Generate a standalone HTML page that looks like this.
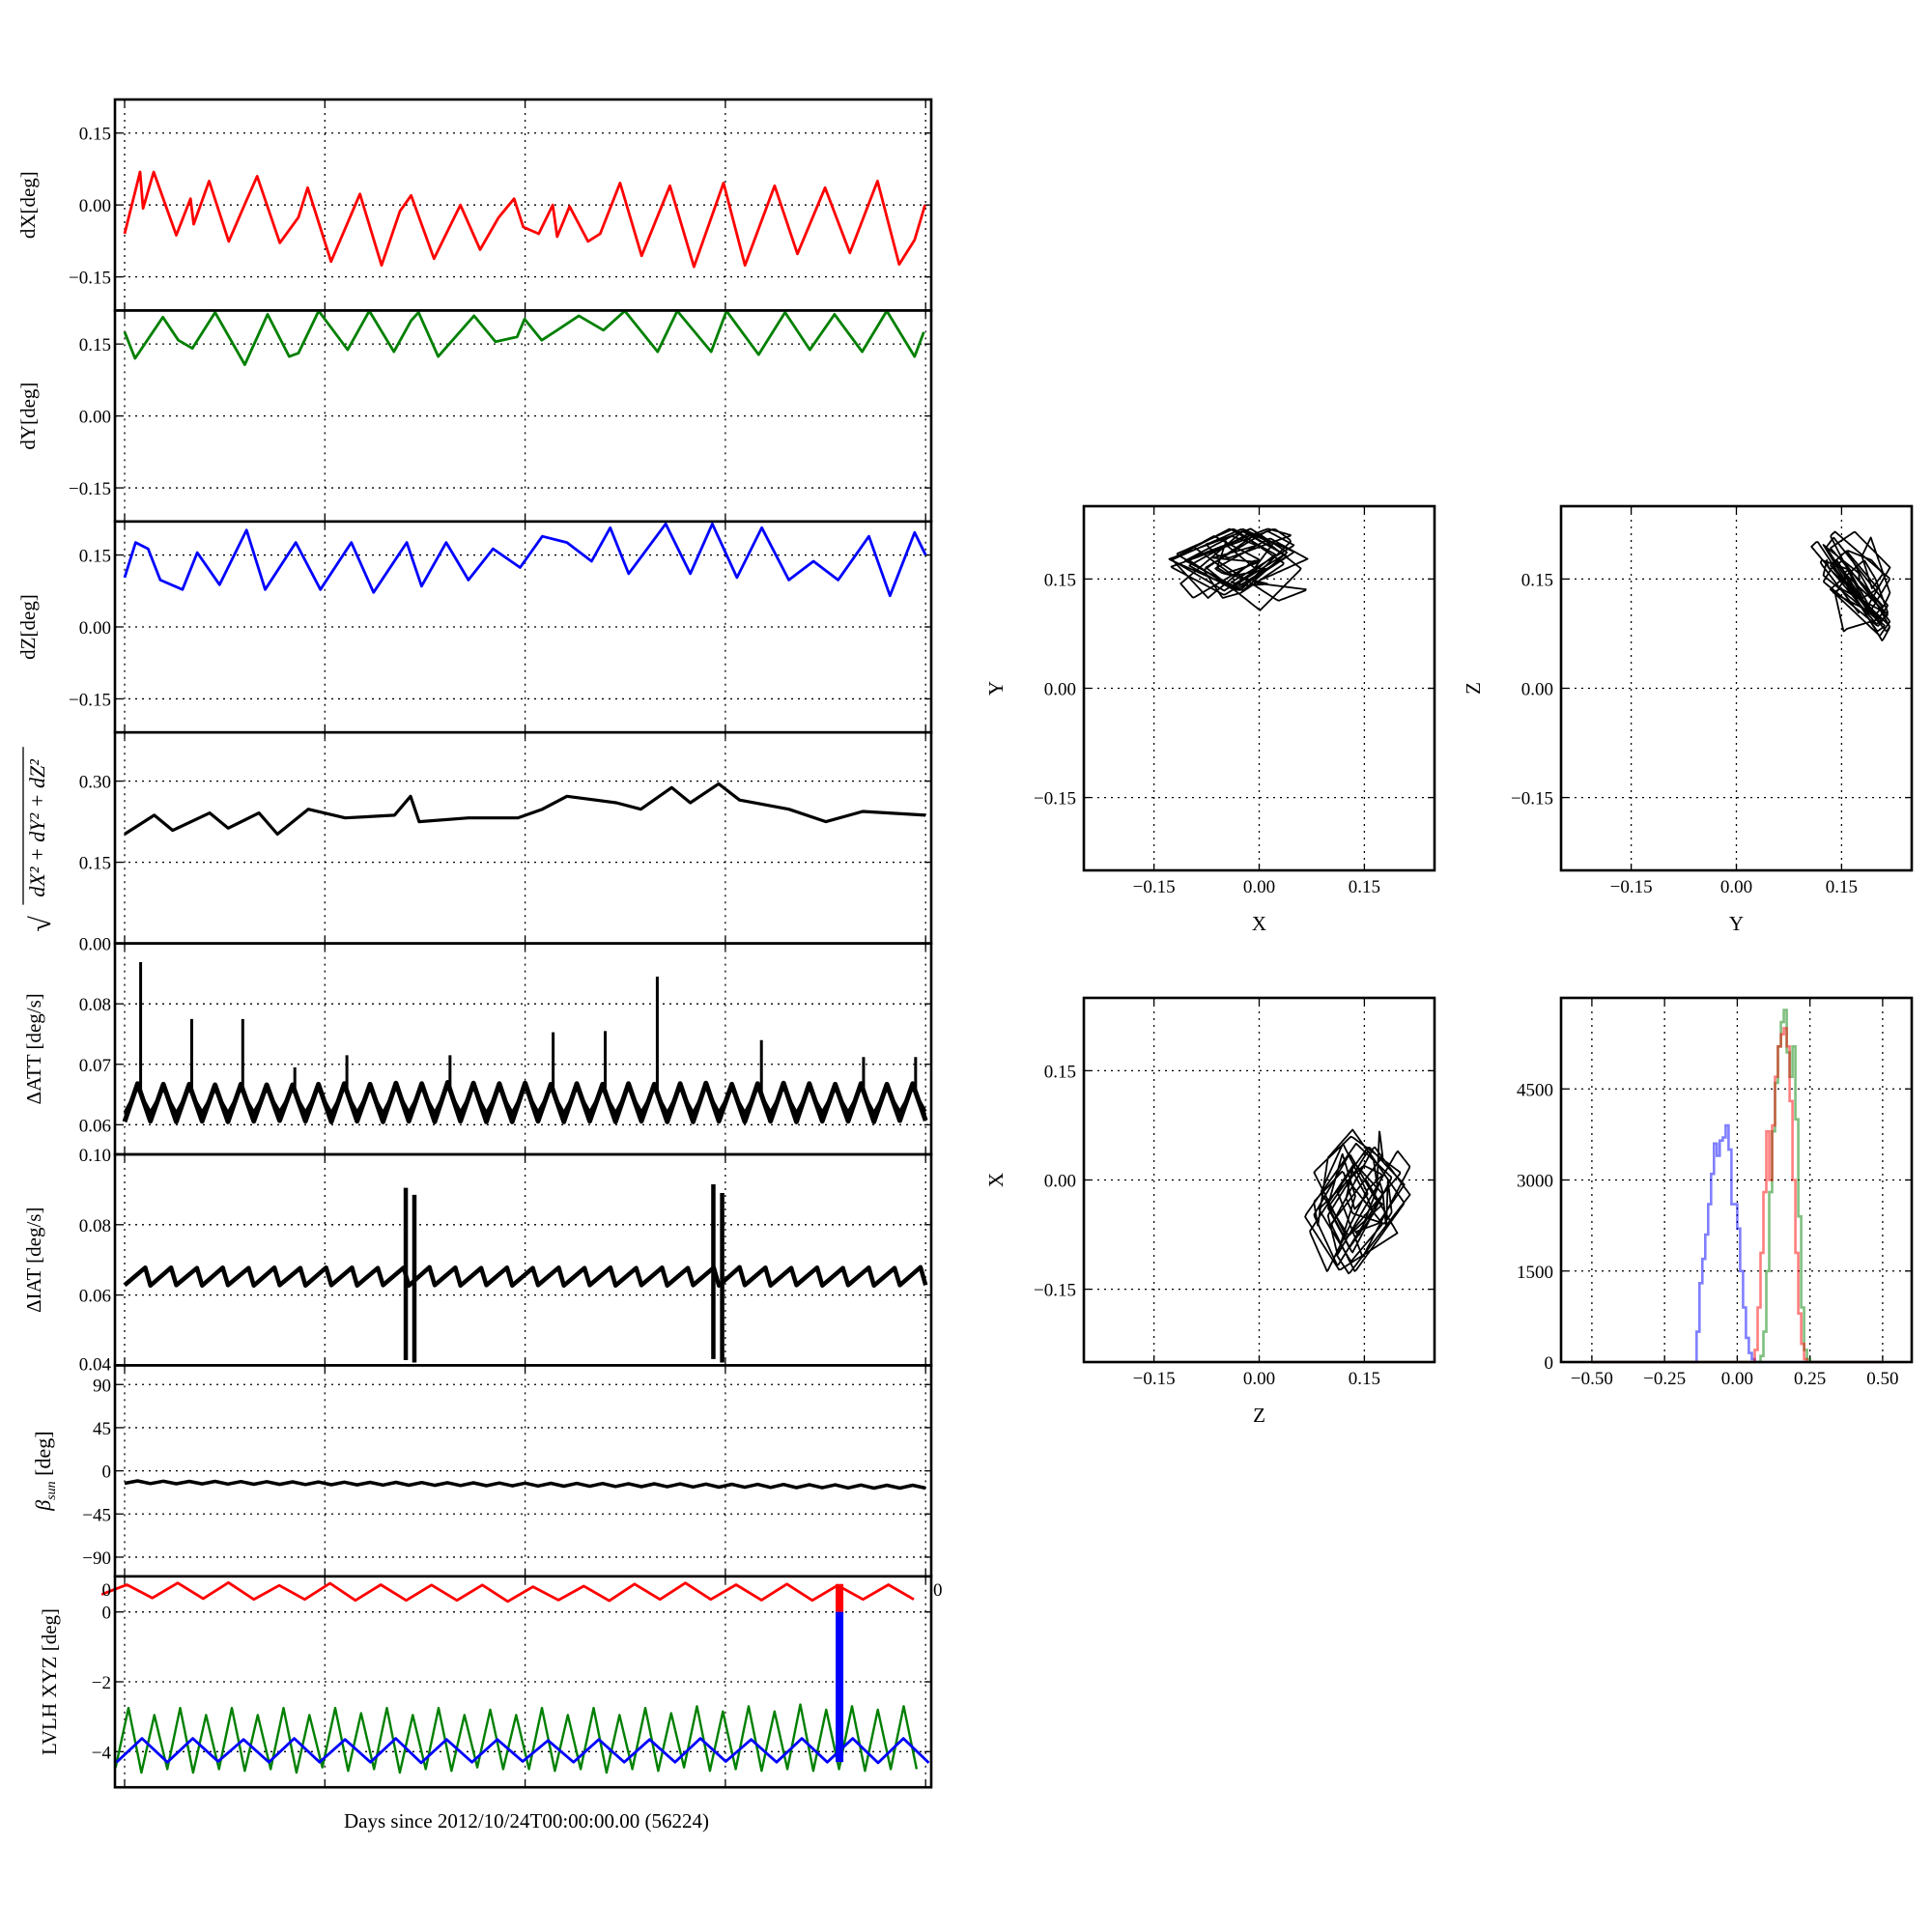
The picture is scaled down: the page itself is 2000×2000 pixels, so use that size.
<!DOCTYPE html>
<html><head><meta charset="utf-8"><style>
html,body{margin:0;padding:0;background:#fff}
svg{display:block;font-family:"Liberation Serif",serif}
</style></head><body>
<svg id="fig" width="2000" height="2000" viewBox="0 0 2000 2000" xmlns="http://www.w3.org/2000/svg"></svg>
<script>
// ---------- data ----------
const dxDays=[0,0.077,0.092,0.145,0.258,0.329,0.345,0.422,0.52,0.606,0.662,0.775,0.868,0.914,1.031,1.175,1.283,1.375,1.431,1.545,1.591,1.677,1.775,1.868,1.945,1.991,2.068,2.138,2.16,2.222,2.314,2.375,2.474,2.582,2.723,2.843,2.991,3.098,3.246,3.36,3.498,3.622,3.76,3.868,3.945,3.997];
const dxVals=[-0.06,0.069,-0.007,0.069,-0.063,0.013,-0.04,0.05,-0.076,0.007,0.06,-0.079,-0.026,0.036,-0.118,0.023,-0.126,-0.013,0.02,-0.112,-0.073,0,-0.093,-0.026,0.013,-0.046,-0.06,0,-0.066,-0.003,-0.076,-0.06,0.046,-0.106,0.04,-0.129,0.046,-0.126,0.04,-0.102,0.036,-0.1,0.05,-0.124,-0.073,0];
const dyDays=[0,0.052,0.191,0.268,0.338,0.452,0.6,0.714,0.822,0.868,0.969,1.114,1.222,1.345,1.431,1.468,1.566,1.745,1.852,1.96,1.997,2.083,2.16,2.268,2.391,2.498,2.662,2.76,2.929,3.006,3.166,3.298,3.422,3.545,3.683,3.806,3.945,3.991];
const dyVals=[0.175,0.12,0.206,0.158,0.141,0.216,0.107,0.212,0.124,0.131,0.219,0.138,0.219,0.134,0.199,0.216,0.124,0.209,0.155,0.165,0.202,0.158,0.179,0.209,0.179,0.219,0.134,0.219,0.134,0.219,0.128,0.216,0.138,0.212,0.134,0.219,0.124,0.175];
const dzDays=[0,0.055,0.117,0.178,0.289,0.363,0.474,0.609,0.702,0.855,0.978,1.132,1.243,1.409,1.483,1.606,1.717,1.84,1.975,2.086,2.209,2.332,2.425,2.517,2.702,2.825,2.935,3.058,3.182,3.317,3.44,3.563,3.717,3.822,3.945,4.0];
const dzVals=[0.103,0.176,0.163,0.098,0.078,0.155,0.088,0.202,0.078,0.176,0.078,0.176,0.072,0.176,0.085,0.176,0.098,0.163,0.124,0.189,0.176,0.137,0.207,0.111,0.215,0.111,0.215,0.103,0.207,0.098,0.137,0.098,0.189,0.065,0.197,0.15];
const magDays=[0,0.148,0.240,0.425,0.517,0.671,0.763,0.917,1.102,1.348,1.428,1.471,1.717,1.963,2.086,2.209,2.455,2.578,2.732,2.825,2.966,3.071,3.317,3.502,3.686,4.0];
const magVals=[0.202,0.237,0.209,0.241,0.213,0.241,0.202,0.248,0.232,0.237,0.272,0.225,0.232,0.232,0.248,0.272,0.26,0.248,0.288,0.26,0.295,0.265,0.248,0.225,0.244,0.237];
const attPeaks=[0.0668,0.0667,0.0667,0.0666,0.0667,0.0666,0.0666,0.0667,0.0668,0.0667,0.0669,0.0668,0.0670,0.0669,0.0668,0.0669,0.0667,0.0668,0.0667,0.0668,0.0667,0.0668,0.0669,0.0667,0.0668,0.0669,0.0668,0.0667,0.0668,0.0667,0.0668];
const attTroughs=[0.0605,0.0606,0.0605,0.0606,0.0605,0.0606,0.0607,0.0606,0.0605,0.0606,0.0605,0.0606,0.0605,0.0606,0.0605,0.0605,0.0606,0.0605,0.0606,0.0605,0.0606,0.0605,0.0605,0.0606,0.0605,0.0606,0.0605,0.0606,0.0606,0.0605,0.0607];
const attSpikeDays=[0.08,0.335,0.59,0.85,1.11,1.625,2.14,2.4,2.66,3.18,3.69,3.95];
const attSpikeVals=[0.0869,0.0775,0.0775,0.0695,0.0715,0.0715,0.0753,0.0755,0.0845,0.0740,0.0712,0.0712];
const iatPeaks=[0.0678,0.0678,0.0677,0.0678,0.0677,0.0678,0.0677,0.0678,0.0678,0.0677,0.0678,0.0679,0.0678,0.0677,0.0678,0.0677,0.0678,0.0677,0.0678,0.0677,0.0678,0.0677,0.0678,0.0679,0.0678,0.0677,0.0678,0.0677,0.0678,0.0677,0.0679];
const iatTroughs=[0.0628,0.0627,0.0628,0.0627,0.0628,0.0627,0.0628,0.0627,0.0628,0.0627,0.0628,0.0627,0.0628,0.0627,0.0628,0.0627,0.0628,0.0627,0.0628,0.0627,0.0628,0.0627,0.0628,0.0627,0.0628,0.0627,0.0628,0.0627,0.0628,0.0627,0.0628];
const iatBurstDays=[1.404,1.447,2.94,2.984];
const iatBurstMax=[0.0905,0.0885,0.0915,0.0890];
const iatBurstMin=[0.0415,0.0408,0.0418,0.0408];
const betaPeaks=[-10.5,-10.8,-11,-11,-11.2,-11.3,-11.5,-11.6,-11.8,-12,-12,-12.2,-12.4,-12.5,-12.7,-12.8,-13,-13.1,-13.2,-13.4,-13.5,-13.6,-13.8,-14,-14.1,-14.2,-14.4,-14.6,-14.8,-15,-15];
const betaTroughs=[-13,-13.3,-13.5,-13.6,-13.8,-14,-14.1,-14.3,-14.5,-14.6,-14.8,-15,-15.1,-15.3,-15.5,-15.6,-15.8,-16,-16.1,-16.3,-16.5,-16.6,-16.8,-17,-17.1,-17.3,-17.5,-17.6,-17.8,-18,-18];
const redPeaks=[0.78,0.83,0.84,0.76,0.82,0.78,0.77,0.77,0.72,0.74,0.80,0.83,0.78,0.80,0.76,0.78];
const redTroughs=[0.50,0.40,0.38,0.36,0.36,0.33,0.33,0.33,0.30,0.34,0.32,0.36,0.36,0.34,0.33,0.36];
const greenPeaks=[-2.75,-2.95,-2.75,-2.95,-2.75,-2.95,-2.75,-2.95,-2.75,-2.9,-2.75,-2.95,-2.75,-2.95,-2.8,-2.95,-2.75,-2.95,-2.75,-2.95,-2.75,-2.9,-2.7,-2.85,-2.7,-2.85,-2.65,-2.8,-2.7,-2.8,-2.7];
const greenTroughs=[-4.45,-4.6,-4.5,-4.6,-4.5,-4.55,-4.5,-4.6,-4.45,-4.55,-4.5,-4.6,-4.5,-4.55,-4.45,-4.5,-4.5,-4.55,-4.5,-4.6,-4.5,-4.55,-4.45,-4.55,-4.5,-4.55,-4.5,-4.55,-4.5,-4.55,-4.5];
const bluePeaks=[-3.62,-3.62,-3.65,-3.62,-3.65,-3.62,-3.65,-3.65,-3.68,-3.65,-3.65,-3.62,-3.65,-3.62,-3.62,-3.62];
const blueTroughs=[-4.3,-4.3,-4.28,-4.3,-4.3,-4.3,-4.32,-4.3,-4.28,-4.3,-4.3,-4.3,-4.28,-4.3,-4.3,-4.32];
const spikeDay=3.57, spikeRedTop=0.8, spikeBlueBottom=-4.3;
const histBinWidth=0.01;
const blueStart=-0.14, blueCounts=[500,1300,1700,2100,2600,3100,3600,3400,3650,3700,3900,3500,2600,2600,2200,1500,900,400,150,50];
const redStart=0.06, redCounts=[200,900,1800,2800,3800,3000,3900,4700,5200,5400,5500,5200,4300,3000,1800,800,300,50];
const greenStart=0.08, greenCounts=[100,500,1500,2800,3800,4600,5200,5600,5800,5100,4700,5200,4000,2400,900,200,50];
const xTicks=[0,1,2,3,4];

// ---------- drawing ----------
const NS="http://www.w3.org/2000/svg";
const svg=document.getElementById('fig');
function el(tag,attrs,parent){const e=document.createElementNS(NS,tag);for(const k in attrs)e.setAttribute(k,attrs[k]);(parent||svg).appendChild(e);return e;}
function txt(s,x,y,attrs,parent){const t=el('text',Object.assign({x:x,y:y,'font-size':19,fill:'#000'},attrs||{}),parent);t.textContent=s;return t;}
const L=119,R=964,TOP=103,PH=218.4;
const xs=d=>129+d*207.3;
function pts(xa,ya,sx,sy){return xa.map((v,i)=>sx(v).toFixed(1)+','+sy(ya[i]).toFixed(1)).join(' ');}
function cyclePts(peaks,troughs,t0,period,phase){
  const X=[],Y=[];
  for(let i=0;i<peaks.length;i++){X.push(t0+i*period);Y.push(troughs[i]);X.push(t0+i*period+period*phase);Y.push(peaks[i]);}
  X.push(t0+peaks.length*period);Y.push(troughs[troughs.length-1]);
  return [X,Y];
}
function panel(i,name,ymin,ymax,yt,ylab){
  const t=TOP+i*PH,b=t+PH;
  const g=el('g',{});
  
  
  const ys=v=>b-(v-ymin)/(ymax-ymin)*PH;
  xTicks.forEach(d=>{el('line',{x1:xs(d),x2:xs(d),y1:t,y2:b,stroke:'#000','stroke-width':1.3,'stroke-dasharray':'2,5'},g);
    el('line',{x1:xs(d),x2:xs(d),y1:b,y2:b-7,stroke:'#000','stroke-width':1.3},g);el('line',{x1:xs(d),x2:xs(d),y1:t,y2:t+7,stroke:'#000','stroke-width':1.3},g);});
  yt.forEach((v,k)=>{const y=ys(v);
    el('line',{x1:L,x2:R,y1:y,y2:y,stroke:'#000','stroke-width':1.3,'stroke-dasharray':'2,5'},g);
    el('line',{x1:L,x2:L+7,y1:y,y2:y,stroke:'#000','stroke-width':1.3},g);el('line',{x1:R,x2:R-7,y1:y,y2:y,stroke:'#000','stroke-width':1.3},g);
    txt(ylab[k],L-4,y+7,{'text-anchor':'end'},g);});
  return {g,t,b,ys};
}
function frame(p){el('rect',{x:L,y:p.t,width:R-L,height:PH,fill:'none',stroke:'#000','stroke-width':2.6},p.g);}
function ylabel(s,x,y,g,extra){return txt(s,0,0,Object.assign({'font-size':21,'text-anchor':'middle',transform:`translate(${x},${y}) rotate(-90)`},extra||{}),g);}
function line(p,xa,ya,color,w,name){const e=el('polyline',{points:pts(xa,ya,xs,p.ys),fill:'none',stroke:color,'stroke-width':w,'stroke-linejoin':'round'},p.g);return e;}

let p=panel(0,'dx',-0.22,0.22,[0.15,0,-0.15],['0.15','0.00','\u22120.15']);
line(p,dxDays,dxVals,'#ff0000',2.8,'dx-line');frame(p);ylabel('dX[deg]',36,p.t+PH/2,p.g);
p=panel(1,'dy',-0.22,0.22,[0.15,0,-0.15],['0.15','0.00','\u22120.15']);
line(p,dyDays,dyVals,'#008000',2.8,'dy-line');frame(p);ylabel('dY[deg]',36,p.t+PH/2,p.g);
p=panel(2,'dz',-0.22,0.22,[0.15,0,-0.15],['0.15','0.00','\u22120.15']);
line(p,dzDays,dzVals,'#0000ff',2.8,'dz-line');frame(p);ylabel('dZ[deg]',36,p.t+PH/2,p.g);
p=panel(3,'magnitude',0,0.39,[0.3,0.15,0],['0.30','0.15','0.00']);
line(p,magDays,magVals,'#000',3.2,'magnitude-line');frame(p);
{const t=txt('dX\u00B2 + dY\u00B2 + dZ\u00B2',0,0,{'font-size':22,'font-style':'italic','text-anchor':'middle',transform:`translate(46,${p.t+PH/2-10}) rotate(-90)`},p.g);
 
 txt('\u221A',0,0,{'font-size':30,transform:`translate(52,${p.t+PH-12}) rotate(-90)`},p.g);
 el('line',{x1:24,x2:24,y1:p.t+15,y2:p.t+PH-40,stroke:'#000','stroke-width':1.3},p.g);}
p=panel(4,'delta-att',0.0551,0.09,[0.08,0.07,0.06],['0.08','0.07','0.06']);
{const [X,Y]=cyclePts(attPeaks,attTroughs,0,4/31,0.5);line(p,X,Y,'#000',5,'att-band');line(p,X,Y.map((v,i)=>i%2?v-0.0008:v+0.0015),'#000',3,'att-line');
 attSpikeDays.forEach((d,i)=>{const e=el('line',{x1:xs(d),x2:xs(d),y1:p.ys(0.0655),y2:p.ys(attSpikeVals[i]),stroke:'#000','stroke-width':3},p.g);
  });}
frame(p);ylabel('\u0394ATT [deg/s]',42,p.t+PH/2,p.g);
p=panel(5,'delta-iat',0.04,0.10,[0.08,0.06],['0.08','0.06']);
txt('0.10',L-4,p.t+7,{'text-anchor':'end'},p.g);txt('0.04',L-4,p.b+5,{'text-anchor':'end'},p.g);
{const [X,Y]=cyclePts(iatPeaks,iatTroughs,0,4/31,0.8);line(p,X,Y,'#000',4.5,'iat-line');
 iatBurstDays.forEach((d,i)=>{const e=el('line',{x1:xs(d),x2:xs(d),y1:p.ys(iatBurstMin[i]),y2:p.ys(iatBurstMax[i]),stroke:'#000','stroke-width':4.5},p.g);
  });}
frame(p);ylabel('\u0394IAT [deg/s]',42,p.t+PH/2,p.g);
p=panel(6,'beta-sun',-110,110,[90,45,0,-45,-90],['90','45','0','\u221245','\u221290']);
{const [X,Y]=cyclePts(betaPeaks,betaTroughs,0,4/31,0.5);line(p,X,Y,'#000',3.5,'beta-line');}
frame(p);
{const t=txt('',0,0,{'font-size':22,'text-anchor':'middle',transform:`translate(52,${p.t+PH/2}) rotate(-90)`},p.g);
 t.innerHTML='<tspan font-style="italic">\u03B2</tspan><tspan font-style="italic" font-size="14" dy="5">sun</tspan><tspan dy="-5"> [deg]</tspan>';}
p=panel(7,'lvlh',-5.02,1.02,[0,-2,-4],['0','\u22122','\u22124']);
{let [X,Y]=cyclePts(redPeaks,redTroughs,-0.115,0.2535,0.5);line(p,X,Y,'#ff0000',2.8,'lvlh-x-line');
 [X,Y]=cyclePts(greenPeaks,greenTroughs,-0.045,4/31,0.5);line(p,X,Y,'#008000',2.4,'lvlh-y-line');
 [X,Y]=cyclePts(bluePeaks,blueTroughs,-0.04,0.2535,0.5);line(p,X,Y,'#0000ff',2.8,'lvlh-z-line');
 let e=el('line',{x1:xs(spikeDay),x2:xs(spikeDay),y1:p.ys(spikeRedTop),y2:p.ys(0),stroke:'#ff0000','stroke-width':8},p.g);
 e=el('line',{x1:xs(spikeDay),x2:xs(spikeDay),y1:p.ys(0),y2:p.ys(spikeBlueBottom),stroke:'#0000ff','stroke-width':8},p.g);}
frame(p);ylabel('LVLH XYZ [deg]',58,p.t+PH/2,p.g);
txt('0',L-4,p.t+20,{'text-anchor':'end'},p.g);txt('0',R+2,p.t+20,{},p.g);
{const t=txt('Days since 2012/10/24T00:00:00.00 (56224)',545,1892,{'font-size':21,'text-anchor':'middle'});}

function interp(days,vals,t){let i=1;while(i<days.length-1&&days[i]<t)i++;const a=days[i-1],b=days[i];const f=Math.max(0,Math.min(1,(t-a)/(b-a)));return vals[i-1]+(vals[i]-vals[i-1])*f;}
const sampT=[];for(let k=0;k<=1600;k++)sampT.push(k*4/1600);
const SX=sampT.map(t=>interp(dxDays,dxVals,t)),SY=sampT.map(t=>interp(dyDays,dyVals,t)),SZ=sampT.map(t=>interp(dzDays,dzVals,t));
function box(x0,y0,name,xmin,xmax,ymin,ymax,xt,xl,yt,yl){
  const W=363,H=377;
  const g=el('g',{});
  const sx=v=>x0+(v-xmin)/(xmax-xmin)*W, sy=v=>y0+H-(v-ymin)/(ymax-ymin)*H;
  xt.forEach((v,k)=>{el('line',{x1:sx(v),x2:sx(v),y1:y0,y2:y0+H,stroke:'#000','stroke-width':1.3,'stroke-dasharray':'2,5'},g);
    el('line',{x1:sx(v),x2:sx(v),y1:y0+H,y2:y0+H-7,stroke:'#000','stroke-width':1.3},g);el('line',{x1:sx(v),x2:sx(v),y1:y0,y2:y0+7,stroke:'#000','stroke-width':1.3},g);
    txt(xl[k],sx(v),y0+H+23,{'text-anchor':'middle'},g);});
  yt.forEach((v,k)=>{el('line',{x1:x0,x2:x0+W,y1:sy(v),y2:sy(v),stroke:'#000','stroke-width':1.3,'stroke-dasharray':'2,5'},g);
    el('line',{x1:x0,x2:x0+7,y1:sy(v),y2:sy(v),stroke:'#000','stroke-width':1.3},g);el('line',{x1:x0+W,x2:x0+W-7,y1:sy(v),y2:sy(v),stroke:'#000','stroke-width':1.3},g);
    txt(yl[k],x0-8,sy(v)+7,{'text-anchor':'end'},g);});
  return {g,sx,sy,x0,y0,W,H};
}
const st=[-0.15,0,0.15],sl=['\u22120.15','0.00','0.15'];
function scatter(x0,y0,name,A,B,xn,yn){
  const b=box(x0,y0,name,-0.25,0.25,-0.25,0.25,st,sl,st,sl);
  const e=el('polyline',{points:pts(A,B,b.sx,b.sy),fill:'none',stroke:'#000','stroke-width':1.8,'stroke-linejoin':'round'},b.g);
  
  el('rect',{x:x0,y:y0,width:b.W,height:b.H,fill:'none',stroke:'#000','stroke-width':2.6},b.g);
  txt(xn,x0+b.W/2,y0+b.H+62,{'font-size':21,'text-anchor':'middle'},b.g);
  txt(yn,0,0,{'font-size':21,'text-anchor':'middle',transform:`translate(${x0-84},${y0+b.H/2}) rotate(-90)`},b.g);
}
scatter(1122,524,'xy-scatter',SX,SY,'X','Y');
scatter(1616,524,'yz-scatter',SY,SZ,'Y','Z');
scatter(1122,1033,'zx-scatter',SZ,SX,'Z','X');
{const b=box(1616,1033,'histogram',-0.606,0.6,0,6000,[-0.5,-0.25,0,0.25,0.5],['\u22120.50','\u22120.25','0.00','0.25','0.50'],[1500,3000,4500],['1500','3000','4500']);
 txt('0',b.x0-8,b.sy(0)+7,{'text-anchor':'end'},b.g);
 function step(start,counts,color,name){
   const X=[-0.5,start],Y=[0,0];
   counts.forEach((c,i)=>{X.push(start+i*histBinWidth);Y.push(c);X.push(start+(i+1)*histBinWidth);Y.push(c);});
   X.push(start+counts.length*histBinWidth);Y.push(0);X.push(0.5);Y.push(0);
   const e=el('polyline',{points:pts(X,Y,b.sx,b.sy),fill:'none',stroke:color,'stroke-width':2.6,'stroke-opacity':0.5},b.g);
   }
 step(blueStart,blueCounts,'#0000ff','hist-z');
 step(greenStart,greenCounts,'#008000','hist-y');
 step(redStart,redCounts,'#ff0000','hist-x');
 el('rect',{x:b.x0,y:b.y0,width:b.W,height:b.H,fill:'none',stroke:'#000','stroke-width':2.6},b.g);}
</script>
</body></html>
